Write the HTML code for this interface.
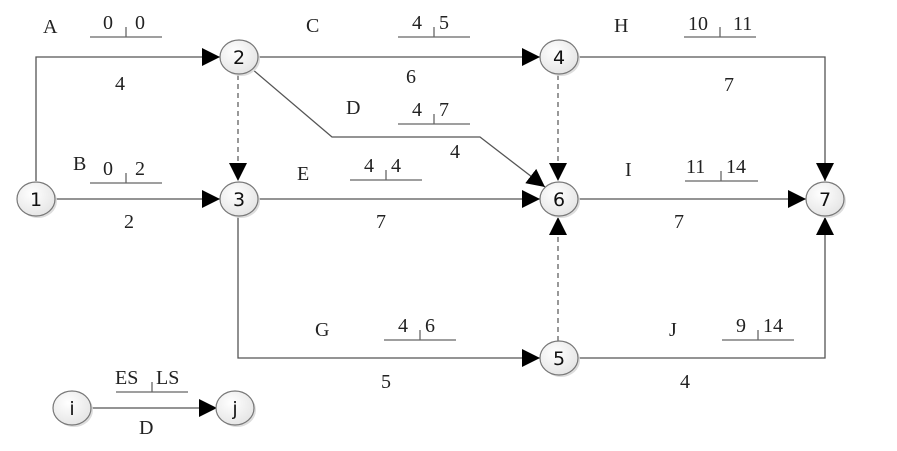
<!DOCTYPE html>
<html><head><meta charset="utf-8"><style>
html,body{margin:0;padding:0;background:#fff;}
svg{display:block;}
.t{font-family:"Liberation Serif",serif;font-size:20px;fill:#222;}
.n{font-family:"DejaVu Sans","Liberation Sans",sans-serif;font-size:19px;fill:#111;text-anchor:middle;}
.l{stroke:#555;stroke-width:1.3;fill:none;}
.d{stroke:#555;stroke-width:1.2;fill:none;stroke-dasharray:5,4;}
.u{stroke:#666;stroke-width:1.3;}
</style></head><body>
<svg width="897" height="451" viewBox="0 0 897 451" xmlns="http://www.w3.org/2000/svg">
<defs>
<marker id="a" viewBox="0 0 10 10" refX="10" refY="5" markerWidth="18" markerHeight="18" markerUnits="userSpaceOnUse" orient="auto"><path d="M0,0 L10,5 L0,10 z" fill="#000"/></marker>
<radialGradient id="g" cx="40%" cy="35%" r="70%"><stop offset="0" stop-color="#fff"/><stop offset="1" stop-color="#e4e4e4"/></radialGradient>
</defs>
<path class="l" d="M36,181 V57 H220" marker-end="url(#a)"/>
<path class="l" d="M55,199 H220" marker-end="url(#a)"/>
<path class="l" d="M258,57 H540" marker-end="url(#a)"/>
<path class="l" d="M252,69 L332,137 H480 L545,187" marker-end="url(#a)"/>
<path class="d" d="M238,75 V181" marker-end="url(#a)"/>
<path class="l" d="M258,199 H540" marker-end="url(#a)"/>
<path class="d" d="M558,75 V181" marker-end="url(#a)"/>
<path class="l" d="M577,57 H825 V181" marker-end="url(#a)"/>
<path class="l" d="M577,199 H806" marker-end="url(#a)"/>
<path class="l" d="M238,217 V358 H540" marker-end="url(#a)"/>
<path class="d" d="M558,341 V217" marker-end="url(#a)"/>
<path class="l" d="M577,358 H825 V217" marker-end="url(#a)"/>
<path class="l" d="M90,408 H217" marker-end="url(#a)"/>
<g stroke="#777" stroke-width="1.2" fill="url(#g)">
<ellipse cx="38" cy="201" rx="19" ry="17" fill="#ddd" stroke="none"/>
<ellipse cx="36" cy="199" rx="19" ry="17"/>
<ellipse cx="241" cy="59" rx="19" ry="17" fill="#ddd" stroke="none"/>
<ellipse cx="239" cy="57" rx="19" ry="17"/>
<ellipse cx="241" cy="201" rx="19" ry="17" fill="#ddd" stroke="none"/>
<ellipse cx="239" cy="199" rx="19" ry="17"/>
<ellipse cx="561" cy="59" rx="19" ry="17" fill="#ddd" stroke="none"/>
<ellipse cx="559" cy="57" rx="19" ry="17"/>
<ellipse cx="561" cy="201" rx="19" ry="17" fill="#ddd" stroke="none"/>
<ellipse cx="559" cy="199" rx="19" ry="17"/>
<ellipse cx="561" cy="360" rx="19" ry="17" fill="#ddd" stroke="none"/>
<ellipse cx="559" cy="358" rx="19" ry="17"/>
<ellipse cx="827" cy="201" rx="19" ry="17" fill="#ddd" stroke="none"/>
<ellipse cx="825" cy="199" rx="19" ry="17"/>
<ellipse cx="74" cy="410" rx="19" ry="17" fill="#ddd" stroke="none"/>
<ellipse cx="72" cy="408" rx="19" ry="17"/>
<ellipse cx="237" cy="410" rx="19" ry="17" fill="#ddd" stroke="none"/>
<ellipse cx="235" cy="408" rx="19" ry="17"/>
</g>
<text class="n" x="36" y="206">1</text>
<text class="n" x="239" y="64">2</text>
<text class="n" x="239" y="206">3</text>
<text class="n" x="559" y="64">4</text>
<text class="n" x="559" y="206">6</text>
<text class="n" x="559" y="365">5</text>
<text class="n" x="825" y="206">7</text>
<text class="n" x="72" y="415">i</text>
<text class="n" x="235" y="415">j</text>
<g class="u">
<line x1="90" y1="37" x2="162" y2="37"/><line x1="126" y1="37" x2="126" y2="27"/>
<line x1="90" y1="183" x2="162" y2="183"/><line x1="126" y1="183" x2="126" y2="173"/>
<line x1="398" y1="37" x2="470" y2="37"/><line x1="434" y1="37" x2="434" y2="27"/>
<line x1="398" y1="124" x2="470" y2="124"/><line x1="434" y1="124" x2="434" y2="114"/>
<line x1="350" y1="180" x2="422" y2="180"/><line x1="386" y1="180" x2="386" y2="170"/>
<line x1="684" y1="37" x2="756" y2="37"/><line x1="720" y1="37" x2="720" y2="27"/>
<line x1="685" y1="181" x2="758" y2="181"/><line x1="721" y1="181" x2="721" y2="171"/>
<line x1="384" y1="340" x2="456" y2="340"/><line x1="420" y1="340" x2="420" y2="330"/>
<line x1="722" y1="340" x2="794" y2="340"/><line x1="758" y1="340" x2="758" y2="330"/>
<line x1="116" y1="392" x2="188" y2="392"/><line x1="152" y1="392" x2="152" y2="382"/>
</g>
<g class="t">
<text x="43" y="33">A</text><text x="103" y="29">0</text><text x="135" y="29">0</text>
<text x="115" y="90">4</text>
<text x="73" y="170">B</text><text x="103" y="175">0</text><text x="135" y="175">2</text>
<text x="124" y="228">2</text>
<text x="306" y="32">C</text><text x="412" y="29">4</text><text x="439" y="29">5</text>
<text x="406" y="83">6</text>
<text x="346" y="114">D</text><text x="412" y="116">4</text><text x="439" y="116">7</text>
<text x="450" y="158">4</text>
<text x="297" y="180">E</text><text x="364" y="172">4</text><text x="391" y="172">4</text>
<text x="376" y="228">7</text>
<text x="614" y="32">H</text><text x="688" y="30">10</text><text x="733" y="30">11</text>
<text x="724" y="91">7</text>
<text x="625" y="176">I</text><text x="686" y="173">11</text><text x="726" y="173">14</text>
<text x="674" y="228">7</text>
<text x="315" y="336">G</text><text x="398" y="332">4</text><text x="425" y="332">6</text>
<text x="381" y="388">5</text>
<text x="669" y="336">J</text><text x="736" y="332">9</text><text x="763" y="332">14</text>
<text x="680" y="388">4</text>
<text x="115" y="384">ES</text><text x="156" y="384">LS</text>
<text x="139" y="434">D</text>
</g>
</svg>
</body></html>
